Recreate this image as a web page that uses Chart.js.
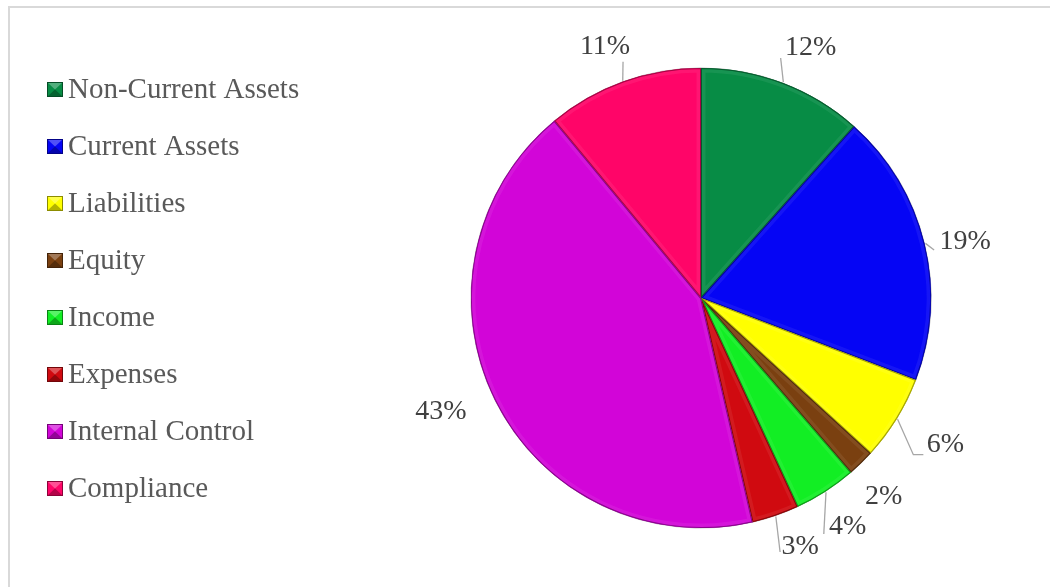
<!DOCTYPE html>
<html>
<head>
<meta charset="utf-8">
<script src="https://cdn.jsdelivr.net/npm/chart.js@4/dist/chart.umd.min.js"></script>
<style>
  html,body{margin:0;padding:0;background:#fff;}
  #wrap{position:relative;width:1050px;height:587px;}
</style>
</head>
<body>
<div id="wrap"><canvas id="c" width="1050" height="587"></canvas></div>
<script>
// ---- data ----
const categories = ["Non-Current Assets","Current Assets","Liabilities","Equity","Income","Expenses","Internal Control","Compliance"];
const shares = [11.6, 19.2, 6.0, 1.9, 4.4, 3.3, 42.6, 11.0];
const percentLabels = ["12%","19%","6%","2%","4%","3%","43%","11%"];
const sliceColors = ["#078C45","#0505F5","#FFFF00","#7A4010","#12EE24","#D00A10","#D205D8","#FF0568"];

// ---- label placement style (angle offset deg, radial offset px, leader) ----
const labelStyle = [
  {da: 2.8, dr: 43, leader: [[-30, 10]]},
  {da: 1.7, dr: 40, leader: [[-31, 8]]},
  {da: -0.7, dr: 55, leader: [[-32, 10], [-22, 10]]},
  {da: 1.5, dr: 40, leader: null},
  {da: 0.1, dr: 42, leader: [[-24, 7]]},
  {da: -2.8, dr: 38, leader: [[-20, 5]]},
  {da: 2.6, dr: 54, leader: null},
  {da: -1.1, dr: 39, leader: [[18, 15]]}
];

const SERIF = "'Liberation Serif','Times New Roman',serif";

const framePlugin = {
  id: 'frame',
  beforeDraw(chart) {
    const ctx = chart.ctx;
    ctx.save();
    ctx.fillStyle = '#fff';
    ctx.fillRect(0, 0, chart.width, chart.height);
    ctx.strokeStyle = '#D9D9D9';
    ctx.lineWidth = 2;
    ctx.strokeRect(9, 7, chart.width + 20, chart.height + 20);
    ctx.restore();
  }
};

function shade(hex, amt) {
  const n = parseInt(hex.slice(1), 16);
  let r = (n >> 16) & 255, g = (n >> 8) & 255, b = n & 255;
  const f = (c) => Math.max(0, Math.min(255, Math.round(amt >= 0 ? c + (255 - c) * amt : c * (1 + amt))));
  return `rgb(${f(r)},${f(g)},${f(b)})`;
}

const bevelPlugin = {
  id: 'bevel',
  afterDatasetsDraw(chart) {
    const ctx = chart.ctx;
    const meta = chart.getDatasetMeta(0);
    meta.data.forEach((arc, i) => {
      const {x, y, startAngle, endAngle, outerRadius} = arc.getProps(['x','y','startAngle','endAngle','outerRadius'], true);
      ctx.save();
      ctx.beginPath();
      ctx.moveTo(x, y);
      ctx.arc(x, y, outerRadius, startAngle, endAngle);
      ctx.closePath();
      ctx.clip();
      ctx.lineJoin = 'round';
      ctx.strokeStyle = shade(sliceColors[i], 0.15);
      ctx.globalAlpha = 0.45;
      ctx.lineWidth = 9;
      ctx.stroke();
      ctx.globalAlpha = 1;
      ctx.strokeStyle = shade(sliceColors[i], -0.35);
      ctx.lineWidth = 2;
      ctx.stroke();
      ctx.restore();
    });
  }
};

const labelPlugin = {
  id: 'pctLabels',
  afterDraw(chart) {
    const ctx = chart.ctx;
    const meta = chart.getDatasetMeta(0);
    ctx.save();
    ctx.font = `28px ${SERIF}`;
    ctx.fillStyle = '#404040';
    ctx.textAlign = 'center';
    ctx.textBaseline = 'middle';
    meta.data.forEach((arc, i) => {
      const {x, y, startAngle, endAngle, outerRadius} = arc.getProps(['x','y','startAngle','endAngle','outerRadius'], true);
      const st = labelStyle[i];
      const mid = (startAngle + endAngle) / 2;
      const a = mid + st.da * Math.PI / 180;
      const lx = x + (outerRadius + st.dr) * Math.cos(a);
      const ly = y + (outerRadius + st.dr) * Math.sin(a);
      if (st.leader) {
        ctx.beginPath();
        ctx.strokeStyle = '#A6A6A6';
        ctx.lineWidth = 1.3;
        ctx.moveTo(x + (outerRadius + 1) * Math.cos(mid), y + (outerRadius + 1) * Math.sin(mid));
        st.leader.forEach(p => ctx.lineTo(lx + p[0], ly + p[1]));
        ctx.stroke();
      }
      ctx.fillText(percentLabels[i], lx, ly);
    });
    ctx.restore();
  }
};

const legendPlugin = {
  id: 'sideLegend',
  afterDraw(chart) {
    const ctx = chart.ctx;
    ctx.save();
    ctx.font = `29px ${SERIF}`;
    ctx.textBaseline = 'middle';
    ctx.textAlign = 'left';
    categories.forEach((name, i) => {
      const cy = 89 + i * 57;
      const bx = 47, by = cy - 7, bw = 16, bh = 15;
      const col = sliceColors[i];
      ctx.fillStyle = col;
      ctx.fillRect(bx, by, bw, bh);
      ctx.fillStyle = shade(col, 0.3);
      ctx.beginPath(); ctx.moveTo(bx, by); ctx.lineTo(bx + bw, by); ctx.lineTo(bx + bw / 2, by + bh / 2); ctx.closePath(); ctx.fill();
      ctx.fillStyle = shade(col, -0.3);
      ctx.beginPath(); ctx.moveTo(bx, by + bh); ctx.lineTo(bx + bw, by + bh); ctx.lineTo(bx + bw / 2, by + bh / 2); ctx.closePath(); ctx.fill();
      ctx.strokeStyle = shade(col, -0.45);
      ctx.lineWidth = 1;
      ctx.strokeRect(bx + 0.5, by + 0.5, bw - 1, bh - 1);
      ctx.fillStyle = '#595959';
      ctx.fillText(name, 68, cy + 1);
    });
    ctx.restore();
  }
};

new Chart(document.getElementById('c'), {
  type: 'pie',
  data: {
    labels: categories,
    datasets: [{
      data: shares,
      backgroundColor: sliceColors,
      borderColor: 'rgba(40,40,40,0.35)',
      borderWidth: 1,
      hoverOffset: 0
    }]
  },
  options: {
    responsive: false,
    animation: false,
    radius: 230,
    layout: { padding: { left: 471, right: 119, top: 68, bottom: 59 } },
    plugins: {
      legend: { display: false },
      tooltip: { enabled: false }
    }
  },
  plugins: [framePlugin, bevelPlugin, labelPlugin, legendPlugin]
});
</script>
</body>
</html>
